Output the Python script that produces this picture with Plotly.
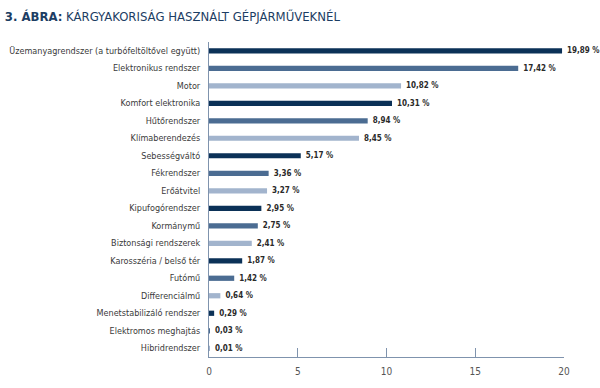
import plotly.graph_objects as go

categories = [
    "Üzemanyagrendszer (a turbófeltöltővel együtt)",
    "Elektronikus rendszer",
    "Motor",
    "Komfort elektronika",
    "Hűtőrendszer",
    "Klímaberendezés",
    "Sebességváltó",
    "Fékrendszer",
    "Erőátvitel",
    "Kipufogórendszer",
    "Kormánymű",
    "Biztonsági rendszerek",
    "Karosszéria / belső tér",
    "Futómű",
    "Differenciálmű",
    "Menetstabilizáló rendszer",
    "Elektromos meghajtás",
    "Hibridrendszer",
]
values = [19.89, 17.42, 10.82, 10.31, 8.94, 8.45, 5.17, 3.36, 3.27, 2.95,
          2.75, 2.41, 1.87, 1.42, 0.64, 0.29, 0.03, 0.01]
value_labels = ["19,89 %", "17,42 %", "10,82 %", "10,31 %", "8,94 %", "8,45 %",
                "5,17 %", "3,36 %", "3,27 %", "2,95 %", "2,75 %", "2,41 %",
                "1,87 %", "1,42 %", "0,64 %", "0,29 %", "0,03 %", "0,01 %"]
palette = ["#0b3157", "#4b6c92", "#a2b4cd"]
colors = [palette[i % 3] for i in range(len(categories))]
x_ticks = [0, 5, 10, 15, 20]

narrow = "DejaVu Sans Condensed, Liberation Sans, sans-serif"

fig = go.Figure(go.Bar(
    x=values, y=categories, orientation="h",
    marker=dict(color=colors, line=dict(width=0)),
    width=0.3,
    text=value_labels, texttemplate="\u00a0\u00a0%{text}",
    textposition="outside", cliponaxis=False,
    constraintext="none",
    textfont=dict(family=narrow, size=8, color="#2a2a2a", weight="bold"),
))

fig.update_layout(
    width=600, height=388,
    margin=dict(l=209, r=36, t=42, b=31, autoexpand=False),
    paper_bgcolor="white", plot_bgcolor="white",
    showlegend=False,
    title=dict(
        text="<b>3. ÁBRA:</b> KÁRGYAKORISÁG HASZNÁLT GÉPJÁRMŰVEKNÉL",
        x=0.008, xanchor="left", y=0.958, yanchor="middle",
        font=dict(family=narrow, size=13, color="#1c3d63"),
    ),
    xaxis=dict(
        range=[0, 20], tickvals=x_ticks, ticks="inside", ticklen=9,
        tickcolor="#7f93ad", tickwidth=1, showgrid=False, zeroline=False,
        showline=True, linecolor="#7f93ad", linewidth=1,
        tickfont=dict(family=narrow, size=10, color="#555"),
        ticklabelstandoff=5,
        automargin=False, fixedrange=True,
    ),
    yaxis=dict(
        range=[17.5, -0.5], autorange=False,
        showgrid=False, zeroline=False, showline=True,
        linecolor="#7f93ad", linewidth=1, ticks="", ticklen=0,
        tickfont=dict(family=narrow, size=9.0, color="#3a3a3a"),
        ticklabelstandoff=6,
        automargin=False, fixedrange=True,
    ),
)

fig.write_html("out.html", config={"displayModeBar": False},
               post_script="document.body.style.margin='0';")
